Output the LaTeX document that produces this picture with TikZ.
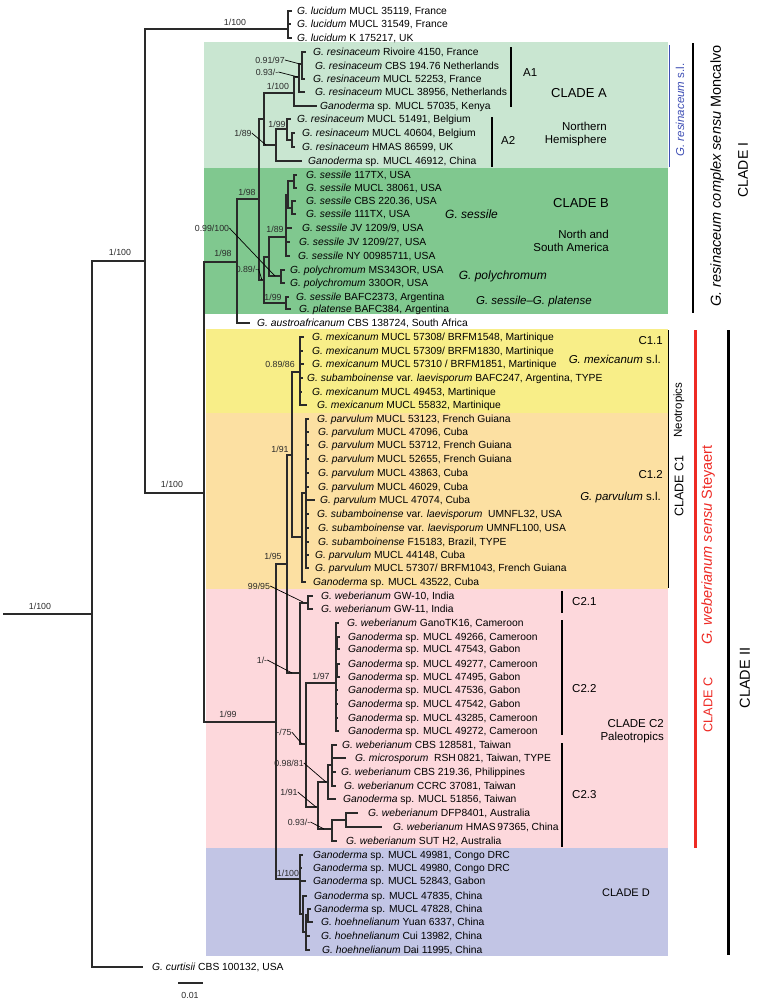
\documentclass[tikz,border=0pt]{standalone}
\usepackage{fontspec}
\setmainfont{Liberation Sans}
\definecolor{cA}{HTML}{C9E6D1}
\definecolor{cB}{HTML}{80C88F}
\definecolor{cY}{HTML}{F8EE88}
\definecolor{cO}{HTML}{FCE0A2}
\definecolor{cP}{HTML}{FDD8DC}
\definecolor{cD}{HTML}{C2C5E5}
\definecolor{blu}{HTML}{3F4FB5}
\definecolor{rd}{HTML}{EE2A24}
\definecolor{tr}{HTML}{2A2A2A}
\newcommand\leaf[5]{\coordinate (#1) at (#2,#3);\node[taxon] (#1-t) at (#4,#3) {#5};}
\newcommand\inn[3]{\coordinate (#1) at (#2,#3);}
\newcommand\conn[2]{\draw[br] (#1) |- (#2);}
\newcommand\gi[1]{\textit{#1}}
\newcommand\supl[4]{\node[suppl] (#1) at (#2,#3) {#4};}
\newcommand\lead[4]{\coordinate (#1-e) at (#3,#4);\draw[leader] (#2.east) -- (#1-e);}
\newcommand\vbar[6]{\coordinate (#1-a) at (#2,#3);\coordinate (#1-b) at (#2,#4);\draw[line width=#5,draw=#6] (#1-a) -- (#1-b);}
\begin{document}
\begin{tikzpicture}[x=1pt,y=-1pt,
  br/.style={draw=tr,line width=1.1pt},
  taxon/.style={anchor=west,inner sep=0pt,font=\fontsize{10.3}{12}\selectfont,text height=8.4pt,text depth=1pt},
  suppl/.style={inner sep=0pt,font=\fontsize{8.8}{10}\selectfont,text height=7.1pt,text depth=0.8pt,text=tr},
  leader/.style={draw=black,line width=0.7pt},
  lab/.style={inner sep=0pt,font=\fontsize{#1}{14}\selectfont},
  rlab/.style={inner sep=0pt,anchor=east,align=right,font=\fontsize{#1}{13.5}\selectfont},
  llab/.style={inner sep=0pt,anchor=west,font=\fontsize{#1}{14}\selectfont}]
\useasboundingbox (0,0) rectangle (756,1002);
\fill[white] (0,0) rectangle (756,1002);
% backgrounds
\fill[cA] (204,42) rectangle (668,168);
\fill[cB] (204,168) rectangle (668,314);
\fill[cY] (206,329) rectangle (668,413);
\fill[cO] (206,413) rectangle (668,589);
\fill[cP] (206,589) rectangle (668,848);
\fill[cD] (206,848) rectangle (668,956);
\vbar{c1bar}{668}{330}{588}{0.8pt}{black}
% ---------------- tree: internal nodes
\inn{root}{3}{614}
\inn{n92}{92}{614}
\inn{n145}{145}{261}
\inn{L}{288}{29}
\inn{n204}{204}{493}
\inn{I1}{237}{262}
\inn{I2}{259}{199}
\inn{A}{264}{119}
\inn{A1}{294}{93}
\inn{A1a}{299}{77}
\inn{A1b}{302}{64}
\inn{A2}{276}{145}
\inn{A2a}{287}{129}
\inn{A2b}{292}{140}
\inn{B}{264}{280}
\inn{B1}{269}{257}
\inn{S}{286}{237}
\inn{S1}{288}{195}
\inn{S2}{294}{181}
\inn{S3}{292}{208}
\inn{P}{281}{276}
\inn{BP}{286}{303}
\inn{II}{276}{722}
\inn{C}{287}{564}
\inn{C1}{292}{455}
\inn{Mex}{300}{372}
\inn{Parv}{302}{537}
\inn{Parv1}{306}{493}
\inn{C2}{300}{673}
\inn{C21}{308}{603}
\inn{C2b}{306}{744}
\inn{C22}{336}{683}
\inn{C22a}{337}{643}
\inn{C22b}{337}{670}
\inn{C23}{318}{807}
\inn{R0}{328}{782}
\inn{R1}{332}{765}
\inn{Au}{332}{829}
\inn{Au1}{346}{820}
\inn{D}{300}{879}
\inn{D1}{303}{914}
\inn{D2}{306}{932}
\inn{D3}{308}{915}
% ---------------- leaves
\leaf{t1}{292}{11}{297}{\gi{G. lucidum} MUCL 35119, France}
\leaf{t2}{291}{24}{297}{\gi{G. lucidum} MUCL 31549, France}
\leaf{t3}{292}{38}{297}{\gi{G. lucidum} K 175217, UK}
\leaf{t4}{306}{52}{313}{\gi{G. resinaceum} Rivoire 4150, France}
\leaf{t5}{303}{66}{315}{\gi{G. resinaceum} CBS 194.76 Netherlands}
\leaf{t6}{305}{79}{313}{\gi{G. resinaceum} MUCL 52253, France}
\leaf{t7}{305}{92}{315}{\gi{G. resinaceum} MUCL 38956, Netherlands}
\leaf{t8}{317}{106}{320}{\gi{Ganoderma} sp. MUCL 57035, Kenya}
\leaf{t9}{291}{119}{297}{\gi{G. resinaceum} MUCL 51491, Belgium}
\leaf{t10}{295}{133}{302}{\gi{G. resinaceum} MUCL 40604, Belgium}
\leaf{t11}{295}{147}{302}{\gi{G. resinaceum} HMAS 86599, UK}
\leaf{t12}{302}{161}{308}{\gi{Ganoderma} sp. MUCL 46912, China}
\leaf{t13}{297}{175}{306}{\gi{G. sessile} 117TX, USA}
\leaf{t14}{297}{188}{306}{\gi{G. sessile} MUCL 38061, USA}
\leaf{t15}{296}{201}{306}{\gi{G. sessile} CBS 220.36, USA}
\leaf{t16}{296}{214}{306}{\gi{G. sessile} 111TX, USA}
\leaf{t17}{292}{228}{302}{\gi{G. sessile} JV 1209/9, USA}
\leaf{t18}{290}{242}{299}{\gi{G. sessile} JV 1209/27, USA}
\leaf{t19}{290}{256}{298}{\gi{G. sessile} NY 00985711, USA}
\leaf{t20}{285}{270}{290}{\gi{G. polychromum} MS343OR, USA}
\leaf{t21}{285}{283}{290}{\gi{G. polychromum} 330OR, USA}
\leaf{t22}{289}{297}{296}{\gi{G. sessile} BAFC2373, Argentina}
\leaf{t23}{291}{309}{299}{\gi{G. platense} BAFC384, Argentina}
\leaf{t24}{250}{323}{257}{\gi{G. austroafricanum} CBS 138724, South Africa}
\leaf{t25}{304}{337}{312}{\gi{G. mexicanum} MUCL 57308/ BRFM1548, Martinique}
\leaf{t26}{303}{351}{312}{\gi{G. mexicanum} MUCL 57309/ BRFM1830, Martinique}
\leaf{t27}{304}{364}{312}{\gi{G. mexicanum} MUCL 57310 / BRFM1851, Martinique}
\leaf{t28}{303}{378}{307}{\gi{G. subamboinense} var. \gi{laevisporum} BAFC247, Argentina, TYPE}
\leaf{t29}{302}{392}{312}{\gi{G. mexicanum} MUCL 49453, Martinique}
\leaf{t30}{307}{405}{317}{\gi{G. mexicanum} MUCL 55832, Martinique}
\leaf{t31}{309}{419}{317}{\gi{G. parvulum} MUCL 53123, French Guiana}
\leaf{t32}{309}{432}{318}{\gi{G. parvulum} MUCL 47096, Cuba}
\leaf{t33}{309}{445}{318}{\gi{G. parvulum} MUCL 53712, French Guiana}
\leaf{t34}{309}{459}{318}{\gi{G. parvulum} MUCL 52655, French Guiana}
\leaf{t35}{309}{473}{318}{\gi{G. parvulum} MUCL 43863, Cuba}
\leaf{t36}{309}{487}{318}{\gi{G. parvulum} MUCL 46029, Cuba}
\leaf{t37}{315}{500}{320}{\gi{G. parvulum} MUCL 47074, Cuba}
\leaf{t38}{309}{514}{317}{\gi{G. subamboinense} var. \gi{laevisporum}\ \ UMNFL32, USA}
\leaf{t39}{309}{528}{318}{\gi{G. subamboinense} var. \gi{laevisporum} UMNFL100, USA}
\leaf{t40}{309}{542}{318}{\gi{G. subamboinense} F15183, Brazil, TYPE}
\leaf{t41}{309}{555}{315}{\gi{G. parvulum} MUCL 44148, Cuba}
\leaf{t42}{309}{568}{315}{\gi{G. parvulum} MUCL 57307/ BRFM1043, French Guiana}
\leaf{t43}{306}{582}{313}{\gi{Ganoderma} sp. MUCL 43522, Cuba}
\leaf{t44}{313}{596}{321}{\gi{G. weberianum} GW-10, India}
\leaf{t45}{313}{609}{321}{\gi{G. weberianum} GW-11, India}
\leaf{t46}{339}{623}{347}{\gi{G. weberianum} GanoTK16, Cameroon}
\leaf{t47}{340}{637}{348}{\gi{Ganoderma} sp. MUCL 49266, Cameroon}
\leaf{t48}{340}{649}{348}{\gi{Ganoderma} sp. MUCL 47543, Gabon}
\leaf{t49}{340}{664}{348}{\gi{Ganoderma} sp. MUCL 49277, Cameroon}
\leaf{t50}{340}{677}{348}{\gi{Ganoderma} sp. MUCL 47495, Gabon}
\leaf{t51}{338}{690}{348}{\gi{Ganoderma} sp. MUCL 47536, Gabon}
\leaf{t52}{338}{704}{348}{\gi{Ganoderma} sp. MUCL 47542, Gabon}
\leaf{t53}{338}{718}{348}{\gi{Ganoderma} sp. MUCL 43285, Cameroon}
\leaf{t54}{339}{731}{348}{\gi{Ganoderma} sp. MUCL 49272, Cameroon}
\leaf{t55}{337}{745}{342}{\gi{G. weberianum} CBS 128581, Taiwan}
\leaf{t56}{346}{758}{355}{\gi{G. microsporum}\ \ RSH\,0821, Taiwan, TYPE}
\leaf{t57}{336}{772}{341}{\gi{G. weberianum} CBS 219.36, Philippines}
\leaf{t58}{336}{786}{344}{\gi{G. weberianum} CCRC 37081, Taiwan}
\leaf{t59}{336}{799}{343}{\gi{Ganoderma} sp. MUCL 51856, Taiwan}
\leaf{t60}{358}{813}{368}{\gi{G. weberianum} DFP8401, Australia}
\leaf{t61}{382}{827}{393}{\gi{G. weberianum} HMAS\,97365, China}
\leaf{t62}{337}{841}{346}{\gi{G. weberianum} SUT H2, Australia}
\leaf{t63}{303}{855}{313}{\gi{Ganoderma} sp. MUCL 49981, Congo DRC}
\leaf{t64}{302}{868}{313}{\gi{Ganoderma} sp. MUCL 49980, Congo DRC}
\leaf{t65}{306}{881}{313}{\gi{Ganoderma} sp. MUCL 52843, Gabon}
\leaf{t66}{307}{896}{314}{\gi{Ganoderma} sp. MUCL 47835, China}
\leaf{t67}{311}{909}{314}{\gi{Ganoderma} sp. MUCL 47828, China}
\leaf{t68}{313}{922}{321}{\gi{G. hoehnelianum} Yuan 6337, China}
\leaf{t69}{310}{936}{321}{\gi{G. hoehnelianum} Cui 13982, China}
\leaf{t70}{310}{950}{322}{\gi{G. hoehnelianum} Dai 11995, China}
\leaf{t71}{143}{967}{152}{\gi{G. curtisii} CBS 100132, USA}
% ---------------- branches
\conn{root}{n92}
\conn{n92}{n145}\conn{n92}{t71}
\conn{n145}{L}\conn{n145}{n204}
\conn{L}{t1}\conn{L}{t2}\conn{L}{t3}
\conn{n204}{I1}\conn{n204}{II}
\conn{I1}{I2}\conn{I1}{t24}
\conn{I2}{A}\conn{I2}{B}
\conn{A}{A1}\conn{A}{A2}
\conn{A1}{A1a}\conn{A1}{t8}
\conn{A1a}{A1b}\conn{A1a}{t7}
\conn{A1b}{t4}\conn{A1b}{t5}\conn{A1b}{t6}
\conn{A2}{A2a}\conn{A2}{t12}
\conn{A2a}{t9}\conn{A2a}{A2b}
\conn{A2b}{t10}\conn{A2b}{t11}
\conn{B}{B1}\conn{B}{BP}
\conn{B1}{S}\conn{B1}{P}
\conn{S}{S1}\conn{S}{t17}\conn{S}{t18}\conn{S}{t19}
\conn{S1}{S2}\conn{S1}{S3}
\conn{S2}{t13}\conn{S2}{t14}
\conn{S3}{t15}\conn{S3}{t16}
\conn{P}{t20}\conn{P}{t21}
\conn{BP}{t22}\conn{BP}{t23}
\conn{II}{C}\conn{II}{D}
\conn{C}{C1}\conn{C}{C2}
\conn{C1}{Mex}\conn{C1}{Parv}
\foreach \k in {25,...,30}{\conn{Mex}{t\k}}
\conn{Parv}{Parv1}\conn{Parv}{t43}
\foreach \k in {31,...,42}{\conn{Parv1}{t\k}}
\conn{C2}{C21}\conn{C2}{C2b}
\conn{C21}{t44}\conn{C21}{t45}
\conn{C2b}{C22}\conn{C2b}{C23}
\conn{C22}{t46}\conn{C22}{C22a}\conn{C22}{C22b}
\conn{C22}{t51}\conn{C22}{t52}\conn{C22}{t53}\conn{C22}{t54}
\conn{C22a}{t47}\conn{C22a}{t48}
\conn{C22b}{t49}\conn{C22b}{t50}
\conn{C23}{R0}\conn{C23}{Au}
\conn{R0}{R1}\conn{R0}{t59}
\conn{R1}{t55}\conn{R1}{t56}\conn{R1}{t57}\conn{R1}{t58}
\conn{Au}{Au1}\conn{Au}{t62}
\conn{Au1}{t60}\conn{Au1}{t61}
\conn{D}{t63}\conn{D}{t64}\conn{D}{t65}\conn{D}{D1}
\conn{D1}{t66}\conn{D1}{D2}
\conn{D2}{D3}\conn{D2}{t69}\conn{D2}{t70}
\conn{D3}{t67}\conn{D3}{t68}
% ---------------- support values
\supl{s1}{40}{606}{1/100}
\supl{s2}{120}{252}{1/100}
\supl{s3}{235}{22}{1/100}
\supl{s4}{172}{484}{1/100}
\supl{s5}{223}{253}{1/98}
\supl{s6}{247}{192}{1/98}
\supl{s7}{278}{86}{1/100}
\supl{s8}{270}{60}{0.91/97}\lead{s8}{s8}{300}{64}
\supl{s9}{267}{72}{0.93/-}\lead{s9}{s9}{298}{77}
\supl{s10}{243}{133}{1/89}\lead{s10}{s10}{266}{145}
\supl{s11}{277}{124}{1/99}
\supl{s12}{212}{228}{0.99/100}\lead{s12}{s12}{275}{276}
\supl{s13}{275}{229}{1/89}
\supl{s14}{247}{269}{0.89/-}\lead{s14}{s14}{262}{280}
\supl{s15}{273}{297}{1/99}
\supl{s16}{280}{364}{0.89/86}
\supl{s17}{280}{449}{1/91}
\supl{s18}{273}{556}{1/95}
\supl{s19}{259}{586}{99/95}\lead{s19}{s19}{303}{602}
\supl{s20}{262}{660}{1/-}\lead{s20}{s20}{292}{673}
\supl{s21}{284}{732}{-/75}\lead{s21}{s21}{302}{744}
\supl{s22}{321}{676}{1/97}
\supl{s23}{289}{763}{0.98/81}\lead{s23}{s23}{326}{782}
\supl{s24}{289}{792}{1/91}\lead{s24}{s24}{316}{807}
\supl{s25}{299}{822}{0.93/-}\lead{s25}{s25}{324}{829}
\supl{s26}{228}{714}{1/99}
\supl{s27}{288}{873}{1/100}
% ---------------- scale bar
\coordinate (sb1) at (178,983);\coordinate (sb2) at (203,983);
\draw[br] (sb1) -- (sb2);
\node[suppl] (sbl) at (190,995) {0.01};
% ---------------- clade bars and labels
\vbar{a1}{511}{47}{107}{2pt}{black}
\vbar{a2}{492}{117}{167}{2pt}{black}
\vbar{c21}{562}{591}{613}{2pt}{black}
\vbar{c22}{562}{620}{735}{2pt}{black}
\vbar{c23}{562}{743}{847}{2pt}{black}
\vbar{rs}{669}{45}{167}{1pt}{blu}
\vbar{cI}{693}{43}{313}{2pt}{black}
\vbar{cC}{695}{330}{848}{3pt}{rd}
\vbar{cII}{728}{330}{955}{3pt}{black}
\node[llab=11.5] (la1) at (523,73) {A1};
\node[llab=11.5] (la2) at (501,140) {A2};
\node[rlab=13] (lcA) at (607,93) {CLADE A};
\node[rlab=11.5] (lnh) at (607,134) {Northern\\Hemisphere};
\node[rlab=13] (lcB) at (609,203) {CLADE B};
\node[rlab=11.5] (lns) at (609,241) {North and\\South America};
\node[llab=12] (lgs) at (445,214) {\gi{G. sessile}};
\node[rlab=12] (lgp) at (547,276) {\gi{G. polychromum}};
\node[rlab=11.5] (lgsp) at (592,302) {\gi{G. sessile--G. platense}};
\node[rlab=11.5] (l11) at (663,341) {C1.1};
\node[rlab=11.5] (lmx) at (661,359) {\gi{G. mexicanum} s.l.};
\node[rlab=11.5] (l12) at (663,475) {C1.2};
\node[rlab=11.5] (lpv) at (661,498) {\gi{G. parvulum} s.l.};
\node[llab=11.5] (l21) at (572,602) {C2.1};
\node[llab=11.5] (l22) at (572,689) {C2.2};
\node[llab=11.5] (l23) at (572,795) {C2.3};
\node[rlab=11.5] (lc2) at (664,731) {CLADE C2\\Paleotropics};
\node[rlab=11] (lcD) at (650,893) {CLADE D};
\node[lab=11.5,rotate=90,text=blu] (lrs) at (680,110) {\gi{G. resinaceum} s.l.};
\node[lab=14.5,rotate=90] (lmon) at (717,176) {\gi{G. resinaceum complex sensu} Moncalvo};
\node[lab=14,rotate=90] (lcI) at (743,170) {CLADE I};
\node[lab=11.5,rotate=90] (lneo) at (679,410) {Neotropics};
\node[lab=12.5,rotate=90] (lc1) at (679,486) {CLADE C1};
\node[lab=14.5,rotate=90,text=rd] (lste) at (708,545) {\gi{G. weberianum sensu} Steyaert};
\node[lab=12.7,rotate=90,text=rd] (lcC) at (708,705) {CLADE C};
\node[lab=14.5,rotate=90] (lcII) at (745,678) {CLADE II};
\end{tikzpicture}
\end{document}
